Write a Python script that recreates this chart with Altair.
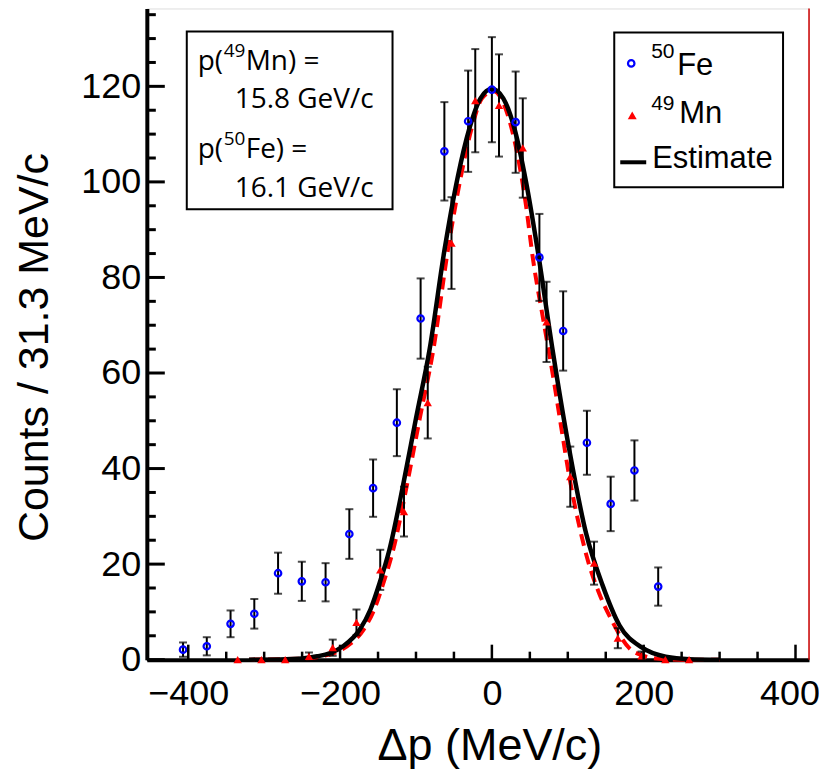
import altair as alt
import pandas as pd

# ---------------- data ----------------
fe_x = [-406.9, -375.6, -344.3, -313.0, -281.7, -250.4, -219.1, -187.8, -156.5, -125.2, -93.9,
        -62.6, -31.3, 0.0, 31.3, 62.6, 93.9, 125.2, 156.5, 187.8, 219.1]
fe_y = [2.1, 2.8, 7.5, 9.6, 18.1, 16.4, 16.2, 26.3, 35.9, 49.6, 71.4,
        106.4, 112.7, 119.3, 112.5, 84.2, 68.8, 45.4, 32.6, 39.6, 15.3]
fe_err = [1.5, 1.9, 2.8, 3.1, 4.3, 4.1, 4.0, 5.2, 6.0, 7.0, 8.4,
          10.3, 10.6, 11.0, 10.6, 9.1, 8.3, 6.7, 5.7, 6.3, 4.0]

mn_x = [-334.9, -303.6, -272.3, -241.0, -209.7, -178.4, -147.1, -115.8, -84.5, -53.2,
        -21.9, 9.4, 40.7, 72.0, 103.3, 134.6, 165.9, 197.2, 228.5, 259.8]
mn_y = [0, 0, 0, 0.7, 2.5, 7.8, 18.8, 31.0, 53.8, 87.2,
        117.0, 116.0, 107.1, 70.7, 38.3, 20.2, 4.5, 0.8, 0, 0]
mn_err = [0, 0, 0, 0.8, 1.7, 2.7, 4.2, 5.2, 7.5, 9.6,
          10.8, 10.7, 10.4, 8.4, 6.3, 4.5, 2.1, 0.9, 0, 0]

est_x = [-320, -280, -250, -230, -214, -196, -174, -160, -148, -135, -117, -100, -82, -62.5,
         -45, -30, -15, 0, 15, 30, 45, 60.3, 80, 102, 124, 146, 168, 198, 229, 260, 300]
est_y = [0, 0.05, 0.25, 0.7, 1.3, 2.8, 6.3, 10.5, 16, 23, 36.5, 50.5, 65, 85.7,
         101, 111, 117.5, 119.5, 117.5, 111, 100, 85.7, 64.8, 43.9, 26.5, 15.5, 7.2, 2.5, 0.6, 0.1, 0]

fit_x = [-320, -245, -225, -209, -191, -169, -155, -143, -130, -112, -95, -77, -58, -41,
         -27, -13, 2, 15, 30, 45, 54, 69, 82, 91, 102, 118, 126, 141, 157, 181, 200, 221, 250, 300]
fit_y = [0, 0.25, 0.7, 1.3, 2.8, 6.3, 10.5, 16, 23, 36.5, 50.5, 65, 85.7, 101,
         111, 117.5, 119, 116.5, 108.5, 95, 84, 70, 58, 49, 38.3, 26, 21, 14, 8.5, 2.4, 0.8, 0.2, 0, 0]

x_major = [-400, -200, 0, 200, 400]
x_minor = [-350, -300, -250, -150, -100, -50, 50, 100, 150, 250, 300, 350]
y_major = [0, 20, 40, 60, 80, 100, 120]
y_minor = [5, 10, 15, 25, 30, 35, 45, 50, 55, 65, 70, 75, 85, 90, 95, 105, 110, 115, 125, 130, 135]

# ---------------- layout ----------------
W, H = 663, 652
XDOM = [-454.6, 417.8]
YDOM = [0, 136.3]
FONT = "Liberation Sans"
BOXFONT = "Open Sans"

xs = alt.Scale(domain=XDOM, nice=False, zero=False)
ys = alt.Scale(domain=YDOM, nice=False, zero=False)

fe = pd.DataFrame({"x": fe_x, "y": fe_y, "e": fe_err})
fe["lo"] = fe["y"] - fe["e"]
fe["hi"] = fe["y"] + fe["e"]
mn = pd.DataFrame({"x": mn_x, "y": mn_y, "e": mn_err})
mn["lo"] = mn["y"] - mn["e"]
mn["hi"] = mn["y"] + mn["e"]
mn_e = mn[mn["e"] > 0]
errs = pd.concat([fe[["x", "lo", "hi"]], mn_e[["x", "lo", "hi"]]], ignore_index=True)

est = pd.DataFrame({"x": est_x, "y": est_y})
fit = pd.DataFrame({"x": fit_x, "y": fit_y})

x_axis = alt.Axis(values=x_major, ticks=False, tickSize=0, grid=False, domainWidth=4,
                  domainColor="black", labelFont=FONT, labelFontSize=36, labelColor="black",
                  labelBaseline="alphabetic", labelPadding=45, labelFlush=False, labelOverlap=False,
                  labelOffset={"condition": {"test": "datum.value == 400", "value": -6}, "value": 0},
                  title="Δp (MeV/c)", titleFont=FONT, titleFontSize=45, titleFontWeight="normal",
                  titleColor="black", titleX=343, titleY=100, titleAlign="center",
                  titleBaseline="alphabetic")
y_axis = alt.Axis(values=y_major, ticks=False, tickSize=0, grid=False, domainWidth=4,
                  domainColor="black", labelFont=FONT, labelFontSize=36, labelColor="black",
                  labelPadding=6, labelFlush=False, labelOverlap=False,
                  title="Counts / 31.3 MeV/c", titleFont=FONT, titleFontSize=43,
                  titleFontWeight="normal", titleColor="black", titleX=-112, titleY=339,
                  titleAlign="center", titleBaseline="middle", titleAngle=270)


def X(field):
    return alt.X(field, scale=xs, axis=x_axis)


def Y(field):
    return alt.Y(field, scale=ys, axis=y_axis)


fit_line = alt.Chart(fit).mark_line(color="#ff0000", strokeWidth=4, strokeDash=[12, 7],
                                    interpolate="monotone").encode(x=X("x:Q"), y=Y("y:Q"))

est_line = alt.Chart(est).mark_line(color="black", strokeWidth=4.5,
                                    interpolate="monotone").encode(x=X("x:Q"), y=Y("y:Q"))

err_rule = alt.Chart(errs).mark_rule(color="black", strokeWidth=2).encode(
    x=X("x:Q"), y=Y("lo:Q"), y2="hi:Q")
cap_lo = alt.Chart(errs).mark_tick(orient="horizontal", color="black", size=8, thickness=2).encode(
    x=X("x:Q"), y=Y("lo:Q"))
cap_hi = alt.Chart(errs).mark_tick(orient="horizontal", color="black", size=8, thickness=2).encode(
    x=X("x:Q"), y=Y("hi:Q"))

fe_pts = alt.Chart(fe).mark_point(shape="circle", filled=False, color="#0000ff", strokeWidth=2.2,
                                  size=42, opacity=1).encode(x=X("x:Q"), y=Y("y:Q"))
mn_pts = alt.Chart(mn).mark_point(shape="triangle-up", filled=True, color="#ff0000", size=70,
                                  opacity=1).encode(x=X("x:Q"), y=Y("y:Q"))

# inner tick marks (ROOT style)
xmaj = alt.Chart(pd.DataFrame({"x": x_major})).mark_rule(color="black", strokeWidth=2.5).encode(
    x=X("x:Q"), y=alt.value(H), y2=alt.value(H - 15))
xmin = alt.Chart(pd.DataFrame({"x": x_minor})).mark_rule(color="black", strokeWidth=2.5).encode(
    x=X("x:Q"), y=alt.value(H), y2=alt.value(H - 8))
ymaj = alt.Chart(pd.DataFrame({"y": y_major})).mark_rule(color="black", strokeWidth=3).encode(
    y=Y("y:Q"), x=alt.value(0), x2=alt.value(18))
ymin = alt.Chart(pd.DataFrame({"y": y_minor})).mark_rule(color="black", strokeWidth=3).encode(
    y=Y("y:Q"), x=alt.value(0), x2=alt.value(9))

one = alt.Data(values=[{}])
right_edge = alt.Chart(one).mark_rule(color="#cc0000", strokeWidth=1.5).encode(
    x=alt.value(W), y=alt.value(0), y2=alt.value(H))

# text box
tbox = alt.Chart(one).mark_rect(fill="white", stroke="black", strokeWidth=2).encode(
    x=alt.value(40), x2=alt.value(246), y=alt.value(23), y2=alt.value(201))


def txt(s, x, y, size, font=FONT, align="left"):
    return alt.Chart(one).mark_text(text=s, font=font, fontSize=size, align=align,
                                    baseline="alphabetic", color="black").encode(
        x=alt.value(x), y=alt.value(y))


box_texts = [
    txt("p(", 51, 62, 28, BOXFONT),
    txt("49", 77, 49, 19, BOXFONT),
    txt("Mn) =", 99, 62, 28, BOXFONT),
    txt("15.8 GeV/c", 88, 100, 28, BOXFONT),
    txt("p(", 51, 150, 28, BOXFONT),
    txt("50", 77, 137, 19, BOXFONT),
    txt("Fe) =", 99, 150, 28, BOXFONT),
    txt("16.1 GeV/c", 88, 189, 28, BOXFONT),
]

# legend
lbox = alt.Chart(one).mark_rect(fill="white", stroke="black", strokeWidth=2).encode(
    x=alt.value(468), x2=alt.value(637), y=alt.value(24), y2=alt.value(179))
leg_circ = alt.Chart(one).mark_point(shape="circle", filled=False, color="#0000ff",
                                     strokeWidth=2.2, size=42, opacity=1).encode(
    x=alt.value(485), y=alt.value(55))
leg_tri = alt.Chart(one).mark_point(shape="triangle-up", filled=True, color="#ff0000",
                                    size=80, opacity=1).encode(
    x=alt.value(486), y=alt.value(107))
leg_line = alt.Chart(one).mark_rule(color="black", strokeWidth=4).encode(
    x=alt.value(474), x2=alt.value(500), y=alt.value(154))
leg_texts = [
    txt("50", 505, 50, 21),
    txt("Fe", 531, 67, 31),
    txt("49", 505, 102, 21),
    txt("Mn", 533, 115, 31),
    txt("Estimate", 506, 160, 31),
]

chart = alt.layer(
    fit_line, est_line, err_rule, cap_lo, cap_hi, fe_pts, mn_pts,
    xmaj, xmin, ymaj, ymin, right_edge,
    tbox, *box_texts, lbox, leg_circ, leg_tri, leg_line, *leg_texts
).properties(
    width=W, height=H,
    autosize=alt.AutoSizeParams(type="none"),
    padding={"left": 139, "top": 0, "right": 10, "bottom": 110},
).configure_view(stroke="black", strokeWidth=2).configure(background="white")

chart.save("out.html", embed_options={"renderer": "svg", "actions": False})
